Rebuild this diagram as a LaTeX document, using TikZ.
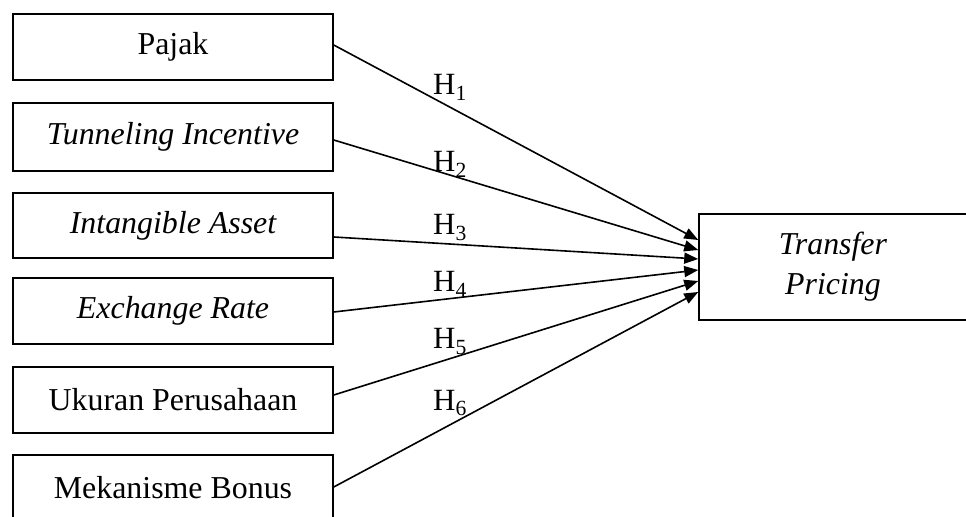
\documentclass[tikz,border=0pt]{standalone}
\usepackage{fontspec}
\setmainfont{Liberation Serif}
\usetikzlibrary{arrows.meta}
\begin{document}
\begin{tikzpicture}[x=1bp,y=-1bp,
  box/.style={draw,line width=1.5bp,minimum width=320bp,minimum height=66bp,inner sep=0pt,font=\fontsize{32}{36}\selectfont},
  conn/.style={line width=1.6bp,-{Triangle[length=14bp,width=11bp]}},
  hlab/.style={anchor=base west,inner sep=0pt,font=\fontsize{31}{36}\selectfont}]
\clip (0,0) rectangle (966,517);
\node[box] (p1) at (173,47) {Pajak};
\node[box,minimum height=68bp] (p2) at (173,137) {\itshape Tunneling Incentive};
\node[box,minimum height=65bp] (p3) at (173,225.5) {\itshape Intangible Asset};
\node[box] (p4) at (173,311) {\itshape Exchange Rate};
\node[box] (p5) at (173,400) {Ukuran Perusahaan};
\node[box] (p6) at (173,488) {Mekanisme Bonus};
\node[box,minimum width=268bp,minimum height=106bp,align=center,font=\fontsize{32}{40}\selectfont\itshape] (tp) at (833,267) {Transfer\\Pricing};
\draw[conn] ([yshift=2bp]p1.east) -- ([yshift=27bp]tp.west);
\draw[conn] ([yshift=-3bp]p2.east) -- ([yshift=17bp]tp.west);
\draw[conn] ([yshift=-11.5bp]p3.east) -- ([yshift=8bp]tp.west);
\draw[conn] ([yshift=-1bp]p4.east) -- ([yshift=-3bp]tp.west);
\draw[conn] ([yshift=5bp]p5.east) -- ([yshift=-14bp]tp.west);
\draw[conn] ([yshift=1bp]p6.east) -- ([yshift=-25bp]tp.west);
\node[hlab] (h1) at (433,95) {H\textsubscript{1}};
\node[hlab] (h2) at (433,172) {H\textsubscript{2}};
\node[hlab] (h3) at (433,235) {H\textsubscript{3}};
\node[hlab] (h4) at (433,292) {H\textsubscript{4}};
\node[hlab] (h5) at (433,349) {H\textsubscript{5}};
\node[hlab] (h6) at (433,410) {H\textsubscript{6}};
\end{tikzpicture}
\end{document}
